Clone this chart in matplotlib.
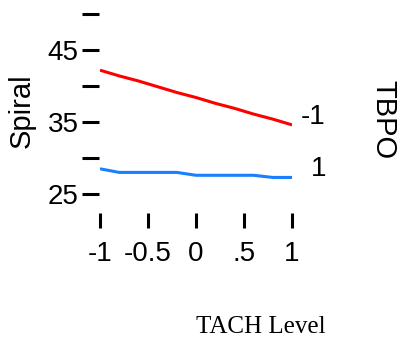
import numpy as np
import matplotlib
matplotlib.use("Agg")
import matplotlib.pyplot as plt

plt.rcParams['font.family'] = ['Liberation Sans', 'DejaVu Sans']

# data
tach = [-1.0, -0.8, -0.6, -0.4, -0.2, 0.0, 0.2, 0.4, 0.6, 0.8, 1.0]
spiral_low = [42.2, 41.4, 40.7, 39.9, 39.1, 38.4, 37.6, 36.9, 36.1, 35.4, 34.6]   # TBPO = -1
spiral_high = [28.5, 28.0, 28.0, 28.0, 28.0, 27.6, 27.6, 27.6, 27.6, 27.3, 27.3]  # TBPO = 1
series_labels = ["-1", "1"]
x_ticks = [-1, -0.5, 0, 0.5, 1]
x_tick_labels = ["-1", "-0.5", "0", ".5", "1"]
y_ticks = [25, 30, 35, 40, 45, 50]
y_tick_labels = ["25", "", "35", "", "45", ""]

W, H = 398, 337
fig = plt.figure(figsize=(W / 100, H / 100), dpi=100)
ax = fig.add_axes([100 / W, 1 - 194 / H, 192 / W, 180 / H])

ax.plot(tach, spiral_low, color='#ff0000', lw=2.2, solid_capstyle='butt')
ax.plot(tach, spiral_high, color='#1a7fff', lw=2.2, solid_capstyle='butt')

ax.set_xlim(-1, 1)
ax.set_ylim(25, 50)
ax.set_xticks(x_ticks)
ax.set_xticklabels(x_tick_labels)
ax.set_yticks(y_ticks)
ax.set_yticklabels(y_tick_labels)

for s in ax.spines.values():
	s.set_color('none')
ax.spines['bottom'].set_position(('outward', 13.7))
ax.spines['left'].set_position(('outward', 0.8))

ax.tick_params(axis='y', direction='out', length=12.2, width=2.2, pad=2.5, labelsize=20)
ax.tick_params(axis='x', direction='out', length=11, width=2.2, pad=9, labelsize=20)
ax.patch.set_alpha(0)

# labels at line ends
for vals, lab in zip([spiral_low, spiral_high], series_labels):
	ax.annotate(lab, xy=(tach[-1], vals[-1]), xytext=(34, 8), textcoords='offset pixels',
				ha='right', va='center', fontsize=20)

fig.text(22 / W, 1 - 111 / H, "Spiral", rotation=90, ha='center', va='center', fontsize=21)
fig.text(383 / W, 1 - 120 / H, "TBPO", rotation=270, ha='center', va='center', fontsize=21)
fig.text(261 / W, 1 - 327 / H, "TACH Level", ha='center', va='center', fontsize=18,
		 family=['Liberation Serif', 'DejaVu Serif'])

fig.savefig("out.png", dpi=100)
